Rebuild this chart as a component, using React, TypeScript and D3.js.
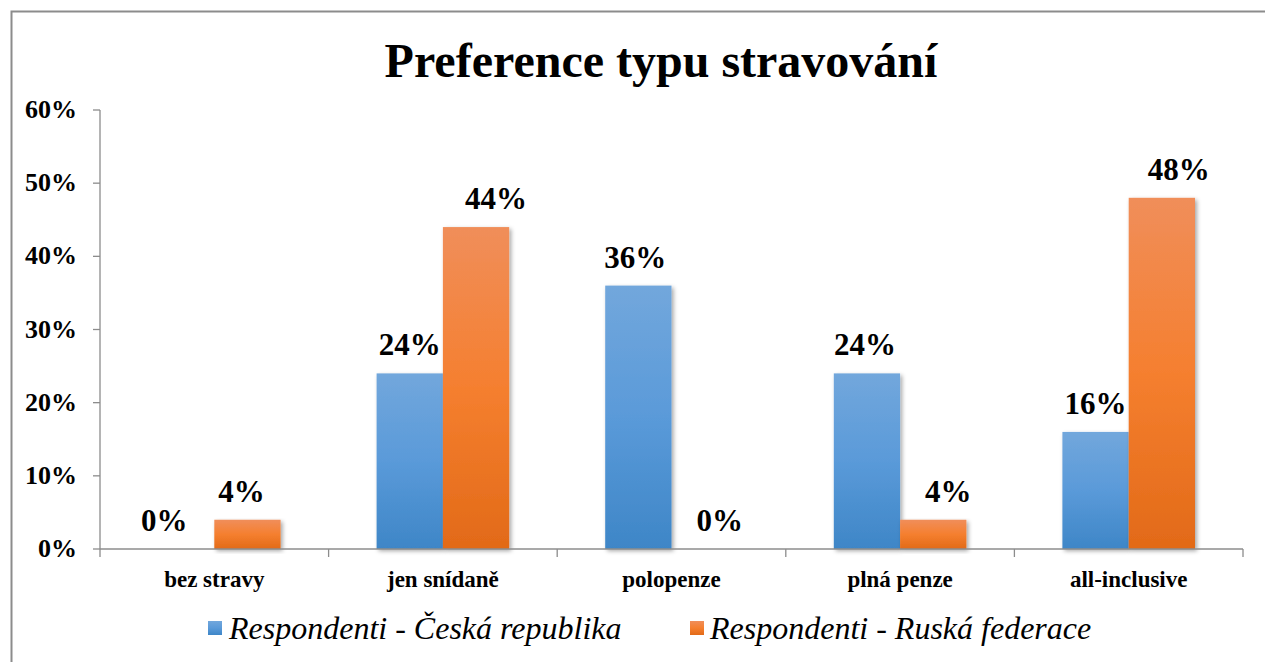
import React, { useEffect } from 'react';
import * as d3 from 'd3';

const title = 'Preference typu stravování';
const categories = ['bez stravy', 'jen snídaně', 'polopenze', 'plná penze', 'all-inclusive'];
const seriesNames = ['Respondenti - Česká republika', 'Respondenti - Ruská federace'];
const czValues = [0, 24, 36, 24, 16];
const ruValues = [4, 44, 0, 4, 48];
const yTicks = [0, 10, 20, 30, 40, 50, 60];

// label nudges (px) to mimic hand-placed labels in the original
const czLabelDx = [-17, 0, -3, -2, 0];
const ruLabelDx = [-6, 20, 15, 15, 17];

const width = 1265;
const height = 662;
const margin = { top: 110, right: 22, bottom: 113, left: 100 };
const font = '"Liberation Serif", "Times New Roman", serif';

export default function App() {
  useEffect(() => {
    document.body.style.margin = '0';
  }, []);

  const x = d3.scaleBand<string>()
    .domain(categories)
    .range([margin.left, width - margin.right]);

  const y = d3.scaleLinear()
    .domain([0, 60])
    .range([height - margin.bottom, margin.top]);

  const barW = x.bandwidth() * 0.29;
  const series = [
    { name: seriesNames[0], values: czValues, fill: 'url(#gBlue)', dx: czLabelDx, off: -barW },
    { name: seriesNames[1], values: ruValues, fill: 'url(#gOrange)', dx: ruLabelDx, off: 0 },
  ];
  const y0 = y(0);

  return (
    <svg width={width} height={height} style={{ display: 'block', background: '#fff', fontFamily: font }}>
      <defs>
        <linearGradient id="gBlue" x1="0" y1="0" x2="0" y2="1">
          <stop offset="0%" stopColor="#72a7dc" />
          <stop offset="50%" stopColor="#5a9ad9" />
          <stop offset="100%" stopColor="#3e86c7" />
        </linearGradient>
        <linearGradient id="gOrange" x1="0" y1="0" x2="0" y2="1">
          <stop offset="0%" stopColor="#f08e5a" />
          <stop offset="50%" stopColor="#f57f2f" />
          <stop offset="100%" stopColor="#e26a18" />
        </linearGradient>
        <filter id="shadow" x="-20%" y="-5%" width="150%" height="120%">
          <feDropShadow dx="2" dy="2" stdDeviation="2" floodColor="#000" floodOpacity="0.35" />
        </filter>
      </defs>

      {/* frame */}
      <path d={`M11.5,${height} V11.5 H${width}`} fill="none" stroke="#8c8c8c" strokeWidth={2} />

      <text x={661} y={77} textAnchor="middle" fontWeight="bold" fontSize={48}>
        {title}
      </text>

      {/* y axis */}
      <line x1={margin.left} x2={margin.left} y1={y(60)} y2={y0} stroke="#8c8c8c" strokeWidth={1.3} />
      {yTicks.map(t => (
        <g key={t}>
          <line x1={margin.left - 7} x2={margin.left} y1={y(t)} y2={y(t)} stroke="#8c8c8c" strokeWidth={1.3} />
          <text x={77} y={y(t) + 8} textAnchor="end" fontWeight="bold" fontSize={26}>
            {t}%
          </text>
        </g>
      ))}

      {/* bars */}
      {series.map((s, si) => (
        <g key={si}>
          {categories.map((c, i) => {
            const cx = (x(c) ?? 0) + x.bandwidth() / 2;
            const v = s.values[i];
            return v > 0 ? (
              <rect key={c} x={cx + s.off} y={y(v)} width={barW} height={y0 - y(v)} fill={s.fill} filter="url(#shadow)" />
            ) : null;
          })}
        </g>
      ))}

      {/* x axis */}
      <line x1={margin.left} x2={width - margin.right} y1={y0} y2={y0} stroke="#8c8c8c" strokeWidth={1.3} />
      {[...categories.map(c => x(c) ?? 0), width - margin.right].map((tx, i) => (
        <line key={i} x1={tx} x2={tx} y1={y0} y2={y0 + 8} stroke="#8c8c8c" strokeWidth={1.3} />
      ))}
      {categories.map(c => (
        <text key={c} x={(x(c) ?? 0) + x.bandwidth() / 2} y={587} textAnchor="middle" fontWeight="bold" fontSize={23}>
          {c}
        </text>
      ))}

      {/* data labels */}
      {series.map((s, si) => (
        <g key={si}>
          {categories.map((c, i) => {
            const cx = (x(c) ?? 0) + x.bandwidth() / 2 + s.off + barW / 2 + s.dx[i];
            const v = s.values[i];
            return (
              <text key={c} x={cx} y={y(v) - 18} textAnchor="middle" fontWeight="bold" fontSize={31}>
                {v}%
              </text>
            );
          })}
        </g>
      ))}

      {/* legend */}
      <rect x={208} y={621} width={14} height={14} fill="url(#gBlue)" />
      <text x={229} y={639} fontStyle="italic" fontSize={32}>{seriesNames[0]}</text>
      <rect x={690} y={621} width={14} height={14} fill="url(#gOrange)" />
      <text x={710} y={639} fontStyle="italic" fontSize={32}>{seriesNames[1]}</text>
    </svg>
  );
}
